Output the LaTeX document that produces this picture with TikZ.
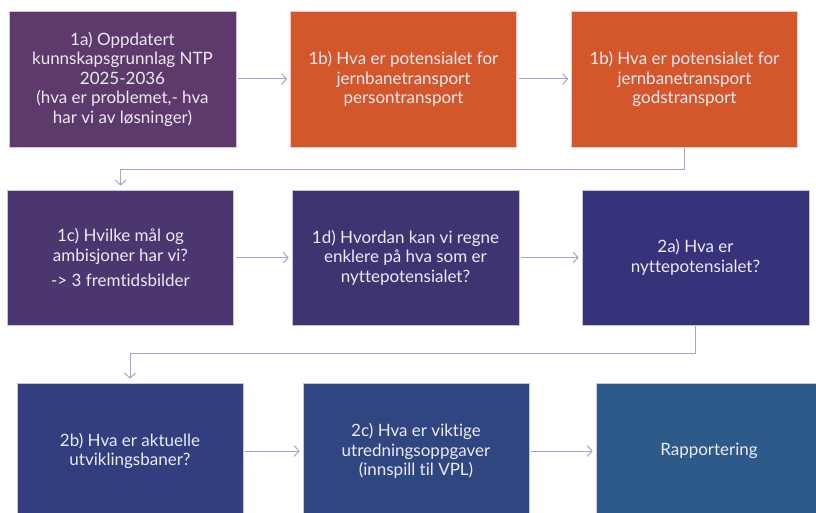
\documentclass[tikz,border=0pt]{standalone}
\usepackage{fontspec}
\setmainfont{Lato}[Ligatures={NoCommon}]
\usetikzlibrary{arrows.meta}
\definecolor{c1a}{HTML}{5D3A6B}
\definecolor{c1b}{HTML}{D4562B}
\definecolor{c1c}{HTML}{4B3670}
\definecolor{c1d}{HTML}{3F3472}
\definecolor{c2a}{HTML}{36337B}
\definecolor{c2b}{HTML}{333E7E}
\definecolor{c2c}{HTML}{2F4680}
\definecolor{crap}{HTML}{2E5A89}
\definecolor{cline}{HTML}{A8A2CC}
\definecolor{ctext}{HTML}{ECEAF2}
\begin{document}
\begin{tikzpicture}[x=1pt,y=-1pt,
  box/.style={rectangle, inner sep=0pt, draw=white!70!#1, line width=0.6pt, fill=#1,
    text=ctext, align=center, font=\fontsize{17}{19.5}\selectfont},
  conn/.style={draw=cline, line width=1pt, -{Straight Barb[length=5pt,width=11pt,line width=1pt]}}]
\useasboundingbox (0,0) rectangle (816,513);
\clip (0,0) rectangle (816,513);
% row 1
\node[box=c1a, minimum width=227pt, minimum height=136pt] (n1a) at (122.5,79)
  {1a) Oppdatert\\kunnskapsgrunnlag NTP\\2025-2036\\(hva er problemet,- hva\\har vi av løsninger)};
\node[box=c1b, minimum width=226pt, minimum height=136pt] (n1bp) at (403.5,79)
  {1b) Hva er potensialet for\\jernbanetransport\\persontransport};
\node[box=c1b, minimum width=226pt, minimum height=136pt] (n1bg) at (684.5,79)
  {1b) Hva er potensialet for\\jernbanetransport\\godstransport};
% row 2
\node[box=c1c, minimum width=226pt, minimum height=135pt] (n1c) at (120.5,257.5)
  {1c) Hvilke mål og\\ambisjoner har vi?\\[6pt]-> 3 fremtidsbilder};
\node[box=c1d, minimum width=227pt, minimum height=135pt] (n1d) at (405.5,257.5)
  {1d) Hvordan kan vi regne\\enklere på hva som er\\nyttepotensialet?};
\node[box=c2a, minimum width=227pt, minimum height=135pt] (n2a) at (695.5,257.5)
  {2a) Hva er\\nyttepotensialet?};
% row 3
\node[box=c2b, minimum width=226pt, minimum height=136pt] (n2b) at (130,451)
  {2b) Hva er aktuelle\\utviklingsbaner?};
\node[box=c2c, minimum width=226pt, minimum height=136pt] (n2c) at (416,451)
  {2c) Hva er viktige\\utredningsoppgaver\\(innspill til VPL)};
\node[box=crap, minimum width=226pt, minimum height=136pt] (nrap) at (709,451)
  {Rapportering};
% connectors
\draw[conn, shorten <=2pt, shorten >=3pt] (n1a.east) -- (n1bp.west);
\draw[conn, shorten <=2pt, shorten >=3pt] (n1bp.east) -- (n1bg.west);
\draw[conn, shorten <=1pt, shorten >=4pt] (n1bg.south) -- ++(0,22) -| (n1c.north);
\draw[conn, shorten <=2pt, shorten >=3pt] (n1c.east) -- (n1d.west);
\draw[conn, shorten <=2pt, shorten >=3pt] (n1d.east) -- (n2a.west);
\draw[conn, shorten <=1pt, shorten >=4pt] (n2a.south) -- ++(0,28) -| (n2b.north);
\draw[conn, shorten <=2pt, shorten >=3pt] (n2b.east) -- (n2c.west);
\draw[conn, shorten <=2pt, shorten >=3pt] (n2c.east) -- (nrap.west);
\end{tikzpicture}
\end{document}
